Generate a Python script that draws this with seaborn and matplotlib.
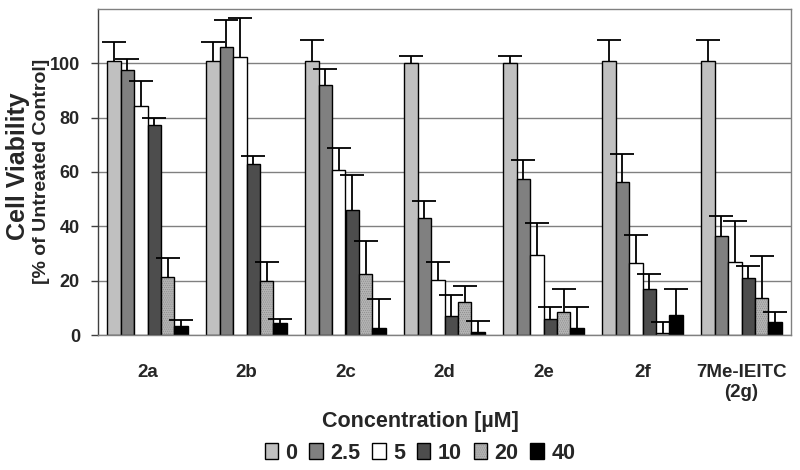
import numpy as np
import pandas as pd
import matplotlib
matplotlib.use("Agg")
import matplotlib.pyplot as plt
from matplotlib.patches import Patch
import matplotlib.colors as mcolors
import seaborn as sns

# ---------------- data ----------------
compounds = ["2a", "2b", "2c", "2d", "2e", "2f", "7Me-IEITC\n(2g)"]
concentrations = ["0", "2.5", "5", "10", "20", "40"]

via_0 = [100.9, 100.9, 100.9, 100.2, 100.2, 100.9, 100.9]
err_0 = [7.0, 7.0, 7.5, 2.5, 2.5, 7.5, 7.5]
via_2_5 = [97.4, 105.9, 92.1, 43.0, 57.3, 56.3, 36.3]
err_2_5 = [4.3, 10.1, 5.9, 6.5, 7.0, 10.2, 7.5]
via_5 = [84.3, 102.3, 60.9, 20.1, 29.6, 26.4, 26.9]
err_5 = [9.3, 14.4, 7.9, 6.7, 11.6, 10.4, 15.0]
via_10 = [77.2, 62.8, 46.0, 6.9, 5.9, 16.9, 20.9]
err_10 = [2.7, 3.1, 12.8, 7.8, 4.3, 5.4, 4.4]
via_20 = [21.4, 19.8, 22.3, 12.1, 8.6, 0.6, 13.7]
err_20 = [7.1, 7.1, 12.3, 6.0, 8.2, 4.2, 15.2]
via_40 = [3.3, 4.4, 2.6, 1.0, 2.6, 7.2, 4.9]
err_40 = [2.1, 1.4, 10.5, 4.3, 7.6, 9.6, 3.6]

yticks = [0, 20, 40, 60, 80, 100]

means = [via_0, via_2_5, via_5, via_10, via_20, via_40]
errors = [err_0, err_2_5, err_5, err_10, err_20, err_40]
colors = ["#c0c0c0", "#808080", "#ffffff", "#4d4d4d", "#b4b4b4", "#000000"]
hatches = [None, None, None, None, "........", None]
hatch_color = "#8c8c8c"

rows = []
for c, vals, errs in zip(concentrations, means, errors):
    for comp, v, e in zip(compounds, vals, errs):
        rows.append({"Compound": comp, "Concentration": c, "Viability": v, "Err": e})
df = pd.DataFrame(rows)

# ---------------- style ----------------
sns.set_style("white")
plt.rcParams["font.family"] = ["Liberation Sans", "DejaVu Sans"]
plt.rcParams["font.weight"] = "bold"
plt.rcParams["hatch.linewidth"] = 0.5

fig = plt.figure(figsize=(8, 4.7), dpi=100)
ax = fig.add_axes([0.1225, 0.2872, 0.86625, 0.6937])

palette = dict(zip(concentrations, colors))
sns.barplot(data=df, x="Compound", y="Viability", hue="Concentration",
            order=compounds, hue_order=concentrations, palette=palette,
            errorbar=None, width=0.81, gap=0, edgecolor="black", linewidth=1,
            saturation=1, ax=ax, legend=False, zorder=2)

bar_containers = list(ax.containers)[:len(concentrations)]
for cont, c, h in zip(bar_containers, concentrations, hatches):
    sub = df[df.Concentration == c].set_index("Compound").loc[compounds]
    xs = [p.get_x() + p.get_width() / 2 for p in cont.patches]
    hs = np.array([p.get_height() for p in cont.patches])
    if h:
        for p in cont.patches:
            p.set_hatch(h)
            p._hatch_color = mcolors.to_rgba(hatch_color)
    eb = ax.errorbar(xs, hs, yerr=[np.zeros(len(hs)), sub.Err.values], fmt="none",
                     ecolor="black", elinewidth=1.3, capsize=8.5, capthick=1.3, zorder=3)
    # keep only the upper caps (one-sided error bars)
    for cap in eb[1]:
        if np.allclose(np.asarray(cap.get_ydata(), dtype=float), hs):
            cap.set_visible(False)

ax.set_ylim(0, 120)
ax.set_xlim(-0.5, len(compounds) - 0.5)
ax.set_yticks(yticks)
ax.set_yticklabels([str(t) for t in yticks],
                   family=["Liberation Sans Narrow", "Liberation Sans"],
                   fontsize=13, fontweight="bold")
ax.set_xticks(range(len(compounds)))
ax.set_xticklabels(compounds, fontsize=13.5, fontweight="bold")
ax.set_xticks(np.arange(-0.5, len(compounds), 1), minor=True)
ax.tick_params(axis="x", which="major", length=0, pad=21)
ax.tick_params(axis="x", which="minor", length=8, width=1, color="#808080", direction="out")
ax.tick_params(axis="y", which="major", length=5, width=1, color="#404040",
               direction="out", pad=8, left=True)
ax.yaxis.grid(True, color="#808080", linewidth=1)
ax.xaxis.grid(False)
ax.set_axisbelow(True)
ax.set_xlabel("")
ax.set_ylabel("")
for side in ["top", "right", "bottom"]:
    ax.spines[side].set_color("#808080")
    ax.spines[side].set_linewidth(1)
ax.spines["left"].set_color("#404040")
ax.spines["left"].set_linewidth(1)

fig.text(18 / 800, 1 - 166 / 470, "Cell Viability", rotation=90, ha="center",
         va="center", fontsize=18, fontweight="bold")
fig.text(42 / 800, 1 - 171 / 470, "[% of Untreated Control]", rotation=90,
         ha="center", va="center", fontsize=14, fontweight="bold")

handles = []
for col, h in zip(colors, hatches):
    hp = Patch(facecolor=col, edgecolor="black", linewidth=1, hatch=h)
    if h:
        hp._hatch_color = mcolors.to_rgba(hatch_color)
    handles.append(hp)
leg = fig.legend(handles, concentrations, loc="upper center",
                 bbox_to_anchor=(0.525, 1 - 411 / 470), frameon=False, ncol=6,
                 title="Concentration [µM]",
                 title_fontproperties={"weight": "bold", "size": 15.5},
                 prop={"weight": "bold", "size": 15.5},
                 handlelength=0.62, handleheight=0.75, handletextpad=0.35,
                 columnspacing=0.55, borderaxespad=0, borderpad=0, labelspacing=0.5)
for hp in leg.legend_handles:
    if hp.get_hatch():
        hp._hatch_color = mcolors.to_rgba(hatch_color)

fig.savefig("out.png", dpi=100, facecolor="white")
